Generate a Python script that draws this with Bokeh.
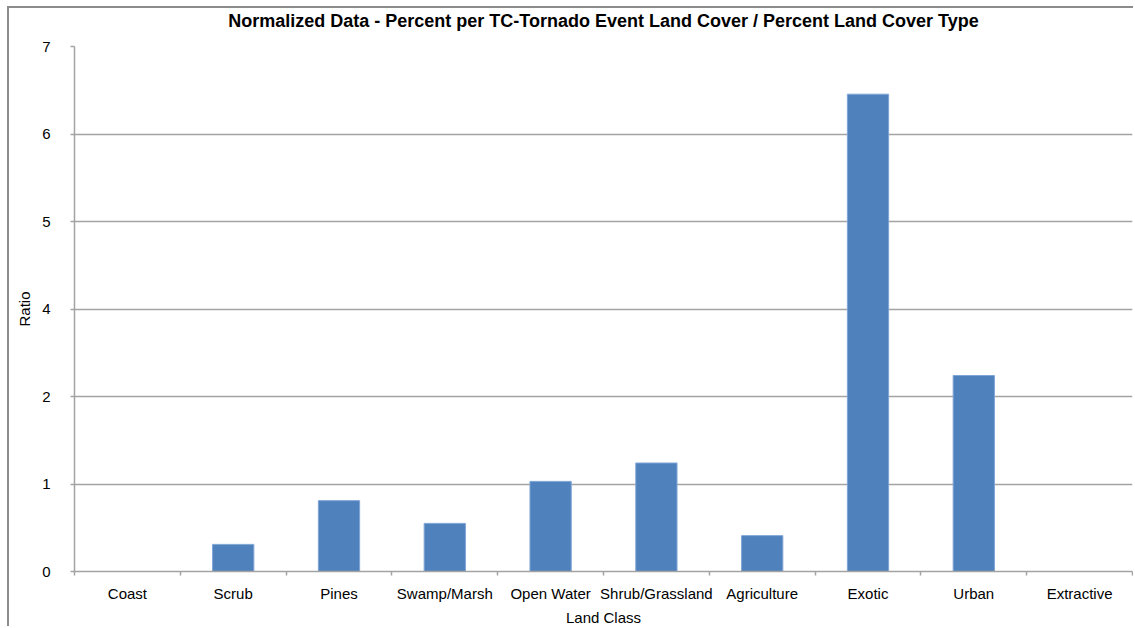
from bokeh.plotting import figure
from bokeh.models import (Range1d, LinearAxis, FixedTicker, ColumnDataSource)
from bokeh.embed import file_html
from bokeh.resources import INLINE

# ---- data (bar heights in the chart's axis units) ----
categories = ["Coast", "Scrub", "Pines", "Swamp/Marsh", "Open Water",
              "Shrub/Grassland", "Agriculture", "Exotic", "Urban", "Extractive"]
ratio = [0.0, 0.31, 0.81, 0.55, 1.03, 1.24, 0.41, 5.455, 2.24, 0.0]
# the reference's y axis: seven evenly spaced gridlines labelled as below
y_tick_positions = [0, 1, 2, 3, 4, 5, 6]
y_tick_labels = ["0", "1", "2", "4", "5", "6", "7"]
title_text = "Normalized Data - Percent per TC-Tornado Event Land Cover / Percent Land Cover Type"

FONT = "Liberation Sans"
GRID = "#a3a3a3"
BAR = "#4f81bd"

n = len(categories)
centers = [i + 0.5 for i in range(n)]
bounds = list(range(n + 1))
src = ColumnDataSource(dict(x=centers, val=ratio))

p = figure(x_range=Range1d(0, n), y_range=Range1d(0, 6),
           width=1126, height=620,
           output_backend="svg", toolbar_location=None,
           x_axis_location=None,
           min_border_left=65, min_border_right=3,
           min_border_top=38, min_border_bottom=56,
           title=title_text)
p.styles = {"margin-left": "7px", "margin-top": "6px",
            "border-left": "2px solid #8c8c8c",
            "border-top": "2px solid #8c8c8c"}

p.title.align = "center"
p.title.vertical_align = "bottom"
p.title.standoff = 0
p.title.padding = (0, 0, 0, 16)   # (left, right, top, bottom): room below the title
p.title.text_font = FONT
p.title.text_font_size = "18px"
p.title.text_font_style = "bold"
p.title.text_color = "#000000"

p.outline_line_color = None
p.background_fill_color = "white"
p.border_fill_color = "white"

p.vbar(x="x", top="val", width=0.39, source=src,
       fill_color=BAR, line_color="#7fa5d6", line_width=1)

# y axis
ya = p.yaxis[0]
ya.ticker = FixedTicker(ticks=y_tick_positions)
ya.major_label_overrides = {t: l for t, l in zip(y_tick_positions, y_tick_labels)}
ya.axis_label = "Ratio"
ya.axis_label_text_font = FONT
ya.axis_label_text_font_size = "15px"
ya.axis_label_text_font_style = "normal"
ya.axis_label_text_color = "#000000"
ya.axis_label_standoff = 6
ya.major_label_text_font = FONT
ya.major_label_text_font_size = "15px"
ya.major_label_text_color = "#000000"
ya.major_label_standoff = 20
ya.axis_line_color = GRID
ya.axis_line_width = 1.5
ya.major_tick_line_color = GRID
ya.major_tick_line_width = 1.5
ya.major_tick_in = 0
ya.major_tick_out = 4
ya.minor_tick_line_color = None

p.ygrid.ticker = FixedTicker(ticks=y_tick_positions)
p.ygrid.grid_line_color = GRID
p.ygrid.grid_line_width = 1.5
p.xgrid.grid_line_color = None

# x axis: labels at category centres, tick marks at category boundaries
xa = LinearAxis(ticker=FixedTicker(ticks=centers, minor_ticks=bounds),
                major_label_overrides={c: name for c, name in zip(centers, categories)},
                axis_line_color=GRID, axis_line_width=1.5,
                major_tick_line_color=None,
                major_tick_in=0, major_tick_out=4,
                minor_tick_line_color=GRID, minor_tick_line_width=1.5,
                minor_tick_in=0, minor_tick_out=4,
                major_label_text_font=FONT,
                major_label_text_font_size="15px",
                major_label_text_color="#000000",
                major_label_standoff=9,
                axis_label="Land Class",
                axis_label_text_font=FONT,
                axis_label_text_font_size="15px",
                axis_label_text_font_style="normal",
                axis_label_text_color="#000000",
                axis_label_standoff=4)
p.add_layout(xa, "below")

open("out.html", "w").write(file_html(p, INLINE))
